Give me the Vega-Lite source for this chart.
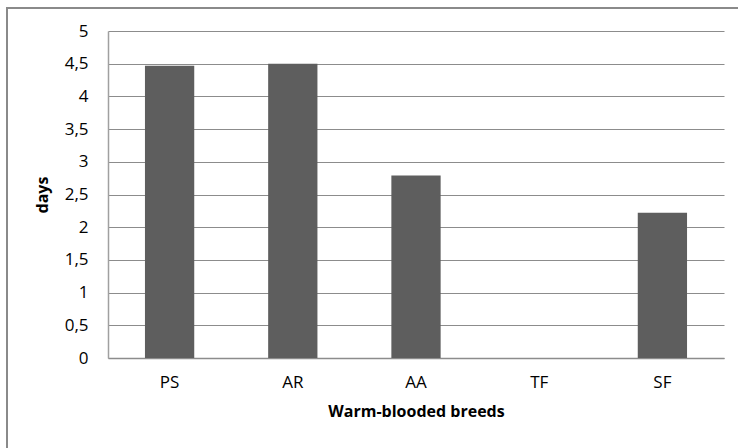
{
  "$schema": "https://vega.github.io/schema/vega-lite/v6.json",
  "autosize": "none",
  "width": 616,
  "height": 327,
  "padding": {"left": 108, "top": 31, "right": 14, "bottom": 90},
  "background": "white",
  "config": {
    "locale": {"number": {"decimal": ",", "thousands": ".", "grouping": [3], "currency": ["", " €"]}},
    "view": {"stroke": null},
    "font": "Open Sans"
  },
  "layer": [
    {
      "data": {"values": [{"frame": 1}]},
      "mark": {
        "type": "rect",
        "x": -101,
        "x2": {"expr": "width + 60"},
        "y": -23,
        "y2": {"expr": "height + 120"},
        "fill": null,
        "stroke": "#8a8a8a",
        "strokeWidth": 2,
        "clip": false
      },
      "encoding": {}
    },
    {
      "data": {
        "values": [
          {"breed": "PS", "days": 4.47},
          {"breed": "AR", "days": 4.5},
          {"breed": "AA", "days": 2.79},
          {"breed": "TF", "days": 0},
          {"breed": "SF", "days": 2.22}
        ]
      },
      "mark": {"type": "bar", "color": "#5e5e5e"},
      "encoding": {
        "x": {
          "field": "breed",
          "type": "nominal",
          "sort": null,
          "scale": {"paddingInner": 0.6, "paddingOuter": 0.3},
          "axis": {
            "title": "Warm-blooded breeds",
            "titleFont": "Open Sans",
            "titleFontSize": 16,
            "titleFontWeight": "bold",
            "titleColor": "#000000",
            "titlePadding": 13,
            "labelAngle": 0,
            "labelFont": "Open Sans",
            "labelFontSize": 17,
            "labelColor": "#000000",
            "labelPadding": 16,
            "ticks": false,
            "domainColor": "#8c8c8c",
            "domainWidth": 1.5,
            "grid": false
          }
        },
        "y": {
          "field": "days",
          "type": "quantitative",
          "scale": {"domain": [0, 5], "nice": false},
          "axis": {
            "title": "days",
            "titleFont": "Open Sans",
            "titleFontSize": 16,
            "titleFontWeight": "bold",
            "titleColor": "#000000",
            "titlePadding": 14,
            "values": [0, 0.5, 1, 1.5, 2, 2.5, 3, 3.5, 4, 4.5, 5],
            "format": "~g",
            "labelFont": "Open Sans",
            "labelFontSize": 17,
            "labelColor": "#000000",
            "labelPadding": 20,
            "ticks": false,
            "domainColor": "#a0a0a0",
            "domainWidth": 1.5,
            "grid": true,
            "gridColor": "#8c8c8c",
            "gridWidth": 1.2
          }
        }
      }
    }
  ]
}
